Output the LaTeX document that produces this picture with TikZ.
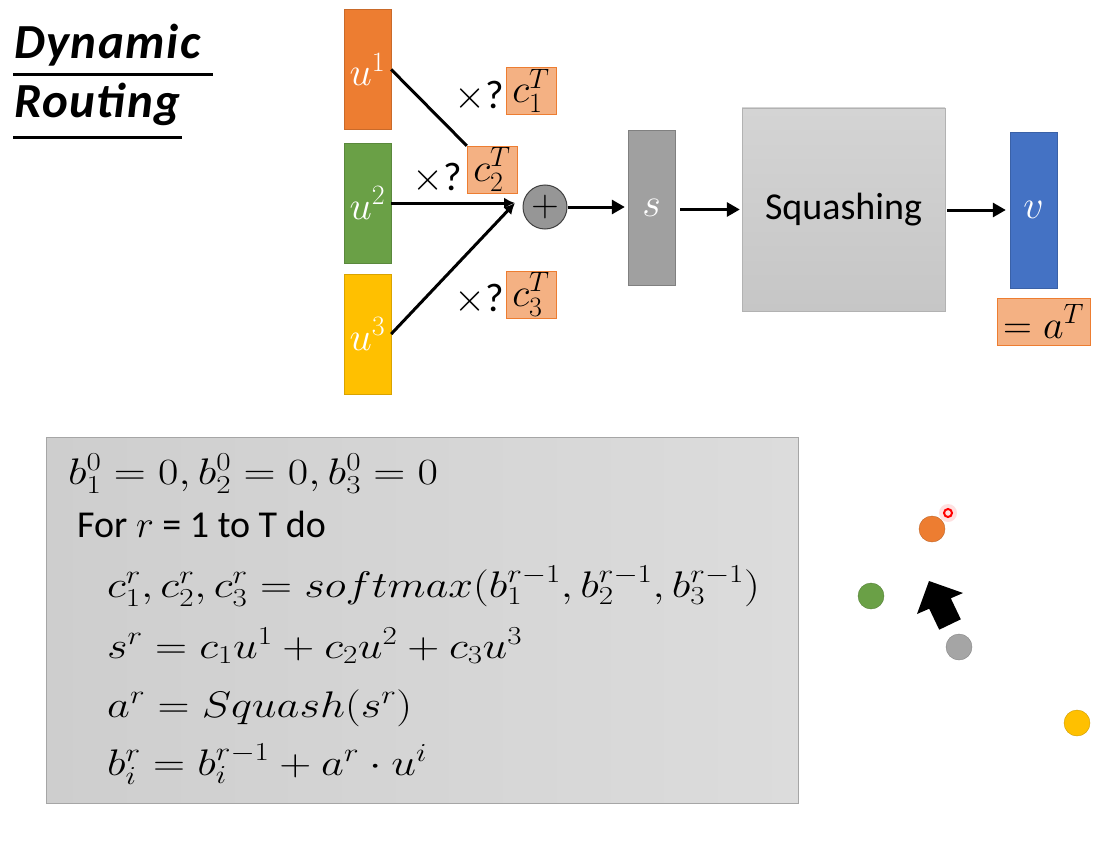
\RequirePackage{fix-cm}
\documentclass[tikz,border=0pt]{standalone}
\usepackage{fontspec}
\usepackage{amsmath}
\newfontfamily\calibri{Carlito}
\newfontfamily\titlefont{Carlito}[LetterSpace=3]
\usetikzlibrary{arrows.meta,positioning}
\newcommand{\sz}[1]{\fontsize{#1}{#1}\selectfont}
\newcommand{\wide}[1]{\scalebox{1.2}[1]{#1}}
\definecolor{uorange}{HTML}{ED7D31}
\definecolor{ugreen}{RGB}{106,160,70}
\definecolor{uyellow}{HTML}{FFC000}
\definecolor{csalmon}{HTML}{F4B183}
\definecolor{vblue}{HTML}{4472C4}
\definecolor{sgray}{RGB}{160,160,160}
\definecolor{plusgray}{RGB}{150,150,150}
\definecolor{sqtop}{RGB}{212,212,212}
\definecolor{sqbot}{RGB}{198,198,198}
\definecolor{panelL}{RGB}{206,206,206}
\definecolor{panelR}{RGB}{220,220,220}
\definecolor{dotgray}{RGB}{165,165,165}

\begin{document}
\begin{tikzpicture}[x=1pt,y=-1pt,
  title/.style={anchor=base west, inner sep=0pt, font=\titlefont\bfseries\itshape\sz{49}},
  vecbox/.style={draw=#1!85!black, fill=#1, minimum width=47pt, minimum height=120pt, inner sep=0pt, text=white, font=\sz{40}},
  coef/.style={draw=uorange, fill=csalmon, minimum width=50pt, minimum height=47pt, inner sep=0pt, font=\sz{40}},
  times/.style={inner sep=0pt, font=\calibri\sz{40}},
  wire/.style={line width=3pt},
  flow/.style={line width=3pt, -{Triangle[length=13pt,width=14pt]}},
  eq/.style={anchor=base west, inner sep=0pt, font=\sz{37}},
  scatter/.style={circle, minimum size=26pt, inner sep=0pt, draw=#1!80!black, fill=#1}]
\useasboundingbox (0,0) rectangle (1115,845);

% Title
\node[title] (dyn) at (14,59) {Dynamic};
\node[title] (rout) at (14,118) {Routing};
\draw[line width=3pt] (13,75) -- (213,75);
\draw[line width=3pt] (13,138) -- (182,138);

% Input capsules
\node[vecbox=uorange] (u1) at (367.5,69.5) {$u^1$};
\node[vecbox=ugreen] (u2) at (367.5,203) {$u^2$};
\node[vecbox=uyellow] (u3) at (367.5,334) {$u^3$};

% Coupling coefficients
\node[coef] (c1) at (531,91) {$c_1^T$};
\node[coef] (c2) at (492,169.5) {$c_2^T$};
\node[coef] (c3) at (531,294.5) {$c_3^T$};
\node[times] (x1) at (479,97) {$\times$?};
\node[times] (x2) at (437,179) {$\times$?};
\node[times] (x3) at (479,300) {$\times$?};

% Weighted sum
\coordinate (j) at (515,203);
\draw[wire] (u1.east) -- (c2.north west);
\draw[wire, -{Latex[length=11pt,width=11pt]}] (u2.east) -- (j);
\draw[wire, -{Latex[length=11pt,width=11pt]}] (u3.east) -- (j);
\node[circle, draw=black!75, line width=1pt, fill=plusgray, minimum size=44pt, inner sep=0pt, font=\sz{38}] (plus) at (545,207) {$+$};

\node[draw=sgray!80!black, fill=sgray, minimum width=47pt, minimum height=155pt, inner sep=0pt, text=white, font=\sz{40}] (s) at (651.5,207.5) {$s$};
\node[draw=sqbot!90!black, top color=sqtop, bottom color=sqbot, minimum width=203pt, minimum height=203pt, inner sep=0pt, font=\calibri\sz{38}] (sq) at (843.5,209.5) {Squashing};
\node[vecbox=vblue, minimum height=156pt] (v) at (1033.5,210) {$v$};
\node[coef, minimum width=93pt] (aT) at (1043.5,321.5) {$=a^T$};

\draw[flow, shorten >=3pt] (plus.east) -- (plus.east -| s.west);
\draw[flow, shorten <=5pt, shorten >=2pt] (s.east |- sq.west) -- (sq.west);
\draw[flow, shorten <=2pt, shorten >=4pt] (sq.east |- v.west) -- (v.west);

% Algorithm
\node[draw=black!35, left color=panelL, right color=panelR, minimum width=752pt, minimum height=366pt, inner sep=0pt] (panel) at (422,620) {};
\node[eq] (l1) at (68,484) {\wide{$b_1^0=0, b_2^0=0, b_3^0=0$}};
\node[eq, font=\calibri\sz{38}] (l2) at (77,537) {For $r$ = 1 to T do};
\node[eq] (l3) at (107,597) {\wide{$c_1^r, c_2^r, c_3^r = softmax(b_1^{r-1}, b_2^{r-1}, b_3^{r-1})$}};
\node[eq] (l4) at (107,658) {\wide{$s^r = c_1u^1 + c_2u^2 + c_3u^3$}};
\node[eq] (l5) at (107,717) {\wide{$a^r = Squash(s^r)$}};
\node[eq] (l6) at (107,775) {\wide{$b_i^r = b_i^{r-1} + a^r\cdot u^i$}};

% Capsule outputs
\node[scatter=uorange] (p1) at (932,529) {};
\node[scatter=ugreen] (p2) at (871,596) {};
\node[scatter=dotgray] (p3) at (959,647) {};
\node[scatter=uyellow] (p4) at (1077,723) {};
\fill (929,581) -- (917,614) -- (929.2,608.7) -- (939.2,629.7) -- (960.8,619.3) -- (950.8,598.3) -- (963,593) -- cycle;
\fill[red!12] (948,513) circle (9);
\draw[red, line width=2pt] (948,513) circle (4);
\end{tikzpicture}
\end{document}
